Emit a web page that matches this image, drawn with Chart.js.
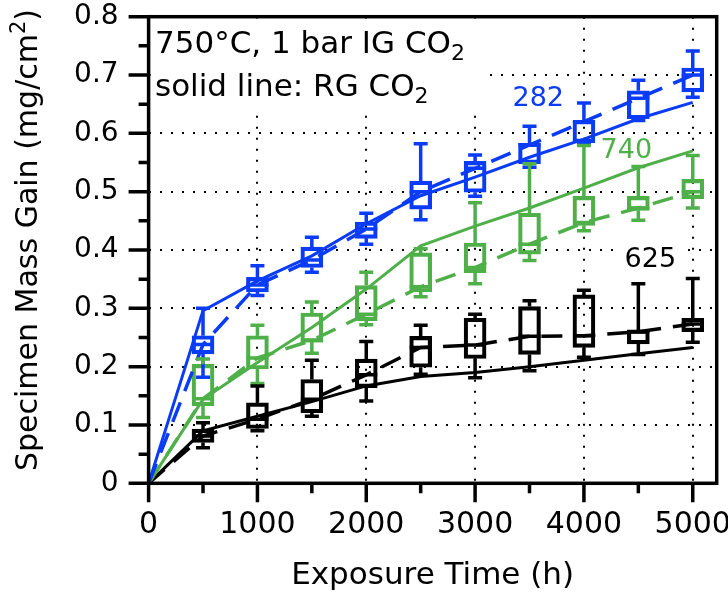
<!DOCTYPE html>
<html>
<head>
<meta charset="utf-8">
<script src="https://cdn.jsdelivr.net/npm/chart.js@4.4.1/dist/chart.umd.min.js"></script>
<style>
  html, body { margin: 0; padding: 0; background: #fff; }
</style>
</head>
<body>
<canvas id="massGainChart" width="728" height="594"></canvas>
<script>
// Tiempos de exposición (h) de las cajas
const times = [500, 1000, 1500, 2000, 2500, 3000, 3500, 4000, 4500, 5000];
// Tiempos de las curvas RG CO2 (línea continua)
const rgTimes = [0, 500, 1000, 1500, 2000, 2500, 3000, 3500, 4000, 4500, 5000];

const xTicks = [0, 500, 1000, 1500, 2000, 2500, 3000, 3500, 4000, 4500, 5000];
const yTicks = [0, 0.05, 0.1, 0.15, 0.2, 0.25, 0.3, 0.35, 0.4, 0.45, 0.5, 0.55, 0.6, 0.65, 0.7, 0.75, 0.8];

// Aleación 282 (azul)
const min282 = [0.182, 0.322, 0.362, 0.41, 0.452, 0.492, 0.542, 0.582, 0.622, 0.662];
const q1_282 = [0.222, 0.328, 0.37, 0.42, 0.47, 0.499, 0.548, 0.584, 0.625, 0.671];
const med282 = [0.238, 0.34, 0.383, 0.436, 0.50, 0.54, 0.58, 0.62, 0.66, 0.70];
const q3_282 = [0.253, 0.353, 0.405, 0.448, 0.518, 0.552, 0.583, 0.622, 0.673, 0.712];
const max282 = [0.30, 0.373, 0.422, 0.463, 0.582, 0.563, 0.612, 0.652, 0.691, 0.741];
const rg282 = [0, 0.296, 0.347, 0.39, 0.445, 0.493, 0.525, 0.559, 0.59, 0.625, 0.653];

// Aleación 740 (verde)
const min740 = [0.113, 0.171, 0.223, 0.272, 0.32, 0.342, 0.382, 0.433, 0.451, 0.472];
const q1_740 = [0.133, 0.196, 0.242, 0.279, 0.328, 0.361, 0.393, 0.442, 0.468, 0.488];
const med740 = [0.145, 0.215, 0.245, 0.29, 0.337, 0.37, 0.41, 0.447, 0.472, 0.50];
const q3_740 = [0.204, 0.253, 0.292, 0.339, 0.395, 0.412, 0.463, 0.492, 0.492, 0.521];
const max740 = [0.213, 0.271, 0.311, 0.362, 0.402, 0.481, 0.548, 0.579, 0.543, 0.562];
const rg740 = [0, 0.144, 0.207, 0.267, 0.333, 0.407, 0.441, 0.472, 0.506, 0.541, 0.57];

// Aleación 625 (negro)
const min625 = [0.061, 0.09, 0.115, 0.141, 0.187, 0.181, 0.193, 0.216, 0.221, 0.242];
const q1_625 = [0.07, 0.094, 0.121, 0.164, 0.199, 0.214, 0.221, 0.233, 0.239, 0.26];
const med625 = [0.081, 0.11, 0.144, 0.186, 0.233, 0.237, 0.252, 0.253, 0.26, 0.273];
const q3_625 = [0.093, 0.138, 0.178, 0.213, 0.252, 0.283, 0.303, 0.323, 0.263, 0.283];
const max625 = [0.104, 0.167, 0.211, 0.243, 0.271, 0.29, 0.313, 0.331, 0.342, 0.351];
const rg625 = [0, 0.09, 0.115, 0.14, 0.167, 0.183, 0.19, 0.20, 0.211, 0.222, 0.233];

const FONT = "'DejaVu Sans', 'Liberation Sans', sans-serif";

const alloys = [
    { name: '282', color: '#0a3cf7', min: min282, q1: q1_282, med: med282, q3: q3_282, max: max282, rg: rg282, label: [3580, 0.659] },
    { name: '740', color: '#4fb04a', min: min740, q1: q1_740, med: med740, q3: q3_740, max: max740, rg: rg740, label: [4390, 0.570] },
    { name: '625', color: '#000000', min: min625, q1: q1_625, med: med625, q3: q3_625, max: max625, rg: rg625, label: [4610, 0.383] }
];

const isMajorX = v => Math.round(v) % 1000 === 0;
const isMajorY = v => Math.round(v * 100) % 10 === 0;

// Construir datasets: caja (barra flotante), mediana discontinua y curva RG continua
const datasets = [];
alloys.forEach(a => {
    datasets.push({
        type: 'bar',
        data: times.map((t, i) => ({ x: t, y: [a.q1[i], a.q3[i]] })),
        backgroundColor: 'rgba(0,0,0,0)',
        borderColor: a.color,
        borderWidth: 3.5,
        borderSkipped: false,
        barThickness: 22,
        grouped: false
    });
    datasets.push({
        type: 'line',
        data: [{ x: 0, y: 0 }].concat(times.map((t, i) => ({ x: t, y: a.med[i] }))),
        borderColor: a.color,
        borderWidth: 3.5,
        borderDash: [21, 12],
        pointRadius: 0,
        fill: false,
        tension: 0
    });
    datasets.push({
        type: 'line',
        data: rgTimes.map((t, i) => ({ x: t, y: a.rg[i] })),
        borderColor: a.color,
        borderWidth: 3,
        pointRadius: 0,
        fill: false,
        tension: 0
    });
});

// Texto con subíndice / superíndice
function drawRich(ctx, parts, x, y) {
    parts.forEach(p => {
        ctx.font = p.size + 'px ' + FONT;
        ctx.fillText(p.text, x, y + (p.dy || 0));
        x += ctx.measureText(p.text).width;
    });
}

const annotations = {
    id: 'annotations',
    beforeDatasetsDraw(chart) {
        const { ctx, chartArea: area, scales: { x, y } } = chart;
        ctx.save();
        ctx.fillStyle = '#fff';
        ctx.fillRect(area.left + 2, area.top + 2, 488 - area.left, 110 - area.top);
        ctx.fillStyle = '#000';
        ctx.textBaseline = 'alphabetic';
        ctx.textAlign = 'left';
        drawRich(ctx, [{ text: '750°C, 1 bar IG CO', size: 31 }, { text: '2', size: 22, dy: 7 }], 155, 53);
        drawRich(ctx, [{ text: 'solid line: RG CO', size: 31 }, { text: '2', size: 22, dy: 7 }], 155, 96);

        ctx.textAlign = 'center';
        ctx.textBaseline = 'middle';
        ctx.font = '27px ' + FONT;
        alloys.forEach(a => {
            const px = x.getPixelForValue(a.label[0]);
            const py = y.getPixelForValue(a.label[1]);
            if (a.name === '625') {
                ctx.fillStyle = '#fff';
                ctx.fillRect(px - 30, py - 12, 60, 24);
            }
            ctx.fillStyle = a.color;
            ctx.fillText(a.name, px, py);
        });
        ctx.restore();
    }
};

const whiskers = {
    id: 'whiskers',
    afterDatasetsDraw(chart) {
        const { ctx, scales: { x, y } } = chart;
        ctx.save();
        ctx.lineWidth = 3.5;
        ctx.lineCap = 'butt';
        alloys.forEach(a => {
            ctx.strokeStyle = a.color;
            times.forEach((t, i) => {
                const px = x.getPixelForValue(t);
                const yMin = y.getPixelForValue(a.min[i]);
                const yQ1 = y.getPixelForValue(a.q1[i]);
                const yMed = y.getPixelForValue(a.med[i]);
                const yQ3 = y.getPixelForValue(a.q3[i]);
                const yMax = y.getPixelForValue(a.max[i]);
                ctx.beginPath();
                ctx.moveTo(px, yMax); ctx.lineTo(px, yQ3);
                ctx.moveTo(px, yQ1); ctx.lineTo(px, yMin);
                ctx.moveTo(px - 7, yMax); ctx.lineTo(px + 7, yMax);
                ctx.moveTo(px - 7, yMin); ctx.lineTo(px + 7, yMin);
                ctx.moveTo(px - 11, yMed); ctx.lineTo(px + 11, yMed);
                ctx.stroke();
            });
        });
        ctx.restore();
    }
};

const frame = {
    id: 'frame',
    afterDraw(chart) {
        const { ctx, chartArea: area, scales: { x, y } } = chart;
        ctx.save();
        ctx.strokeStyle = '#000';
        ctx.lineWidth = 3.5;
        ctx.strokeRect(area.left, area.top, area.right - area.left, area.bottom - area.top);
        ctx.beginPath();
        x.ticks.forEach(t => {
            const px = x.getPixelForValue(t.value);
            ctx.moveTo(px, area.bottom);
            ctx.lineTo(px, area.bottom + (isMajorX(t.value) ? 19 : 10));
        });
        y.ticks.forEach(t => {
            const py = y.getPixelForValue(t.value);
            ctx.moveTo(area.left, py);
            ctx.lineTo(area.left - (isMajorY(t.value) ? 20 : 10), py);
        });
        ctx.stroke();

        // Títulos de los ejes
        ctx.fillStyle = '#000';
        ctx.textAlign = 'center';
        ctx.textBaseline = 'alphabetic';
        ctx.font = '31px ' + FONT;
        ctx.fillText('Exposure Time (h)', (area.left + area.right) / 2, 584);

        ctx.translate(37, 240);
        ctx.rotate(-Math.PI / 2);
        const parts = [
            { text: 'Specimen Mass Gain (mg/cm', size: 30 },
            { text: '2', size: 21, dy: -12 },
            { text: ')', size: 30 }
        ];
        let w = 0;
        parts.forEach(p => { ctx.font = p.size + 'px ' + FONT; w += ctx.measureText(p.text).width; });
        ctx.textAlign = 'left';
        drawRich(ctx, parts, -w / 2, 0);
        ctx.restore();
    }
};

const ctxMass = document.getElementById('massGainChart').getContext('2d');
new Chart(ctxMass, {
    type: 'line',
    data: { datasets: datasets },
    options: {
        responsive: false,
        animation: false,
        layout: { padding: { top: 16.7, right: 11.3, left: 0, bottom: 0 } },
        plugins: {
            legend: { display: false },
            tooltip: { enabled: false }
        },
        scales: {
            x: {
                type: 'linear',
                min: 0,
                max: 5220,
                offset: false,
                afterFit: s => {
                    s.height = 110.7;
                    s.paddingLeft = 0;
                    s.paddingRight = 0;
                },
                afterBuildTicks: s => { s.ticks = xTicks.map(v => ({ value: v })); },
                grid: {
                    offset: false,
                    drawTicks: false,
                    lineWidth: 2,
                    color: c => (c.tick && c.tick.value > 0 && isMajorX(c.tick.value)) ? '#000' : 'rgba(0,0,0,0)'
                },
                border: { display: false, dash: [2, 9] },
                ticks: {
                    padding: 24,
                    color: '#000',
                    maxRotation: 0,
                    autoSkip: false,
                    font: { family: FONT, size: 30 },
                    callback: v => isMajorX(v) ? String(v) : ''
                }
            },
            y: {
                type: 'linear',
                min: 0,
                max: 0.8,
                afterFit: s => {
                    s.width = 148.6;
                    s.paddingTop = 0;
                    s.paddingBottom = 0;
                },
                afterBuildTicks: s => { s.ticks = yTicks.map(v => ({ value: v })); },
                grid: {
                    drawTicks: false,
                    lineWidth: 2,
                    color: c => (c.tick && c.tick.value > 0.01 && c.tick.value < 0.79 && isMajorY(c.tick.value)) ? '#000' : 'rgba(0,0,0,0)'
                },
                border: { display: false, dash: [2, 9] },
                ticks: {
                    padding: 30,
                    color: '#000',
                    autoSkip: false,
                    font: { family: FONT, size: 28 },
                    callback: v => isMajorY(v) ? String(Math.round(v * 10) / 10) : ''
                }
            }
        }
    },
    plugins: [annotations, whiskers, frame]
});
</script>
</body>
</html>
